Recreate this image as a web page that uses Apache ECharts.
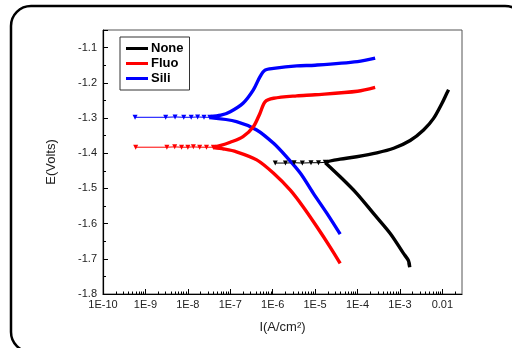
<!DOCTYPE html>
<html>
<head>
<meta charset="utf-8">
<script src="https://cdn.jsdelivr.net/npm/echarts@6/dist/echarts.min.js"></script>
<style>html,body{margin:0;padding:0;background:#fff;}#c{width:512px;height:348px;}</style>
</head>
<body>
<div id="c"></div>
<script>
// ---- data: [current density I (A/cm2), potential E (V)] ----
const seriesNames = ['None', 'Fluo', 'Sili'];
const seriesColors = ['#000000', '#ff0000', '#0000ff'];

const noneFlat = [[1.15e-6,-1.428],[2.0e-6,-1.428],[3.2e-6,-1.427],[5.0e-6,-1.428],[8.0e-6,-1.427],[1.2e-5,-1.427],[1.74e-5,-1.426]];
const noneAnodic = [[1.74e-5,-1.425],[3.9e-5,-1.417],[9.5e-5,-1.410],[2.85e-4,-1.399],[7.1e-4,-1.386],[1.74e-3,-1.364],[3.6e-3,-1.334],[6.2e-3,-1.301],[9.8e-3,-1.258],[1.27e-2,-1.230],[1.4e-2,-1.220]];
const noneCathodic = [[1.74e-5,-1.427],[3.9e-5,-1.467],[9.5e-5,-1.514],[2.37e-4,-1.571],[5.9e-4,-1.628],[1.2e-3,-1.684],[1.58e-3,-1.705],[1.7e-3,-1.724],[1.62e-3,-1.712]];

const fluoFlat = [[5.9e-10,-1.383],[3.2e-9,-1.383],[4.9e-9,-1.382],[7.1e-9,-1.383],[1.0e-8,-1.383],[1.35e-8,-1.382],[1.9e-8,-1.383],[2.75e-8,-1.383],[4.0e-8,-1.383]];
const fluoAnodic = [[4.0e-8,-1.382],[6.0e-8,-1.378],[1.0e-7,-1.369],[2.0e-7,-1.353],[3.5e-7,-1.325],[5.0e-7,-1.287],[6.6e-7,-1.254],[1.05e-6,-1.244],[3.7e-6,-1.237],[1.0e-5,-1.234],[1.0e-4,-1.224],[2.6e-4,-1.213]];
const fluoCathodic = [[4.0e-8,-1.384],[7.0e-8,-1.388],[1.4e-7,-1.396],[4.2e-7,-1.419],[1.05e-6,-1.457],[2.6e-6,-1.505],[5.2e-6,-1.552],[1.1e-5,-1.609],[2.24e-5,-1.666],[3.9e-5,-1.713]];

const siliFlat = [[5.7e-10,-1.298],[3.0e-9,-1.298],[5.0e-9,-1.297],[8.0e-9,-1.298],[1.2e-8,-1.298],[1.7e-8,-1.297],[2.4e-8,-1.298],[3.3e-8,-1.298]];
const siliAnodic = [[3.3e-8,-1.296],[6.0e-8,-1.292],[1.0e-7,-1.282],[2.0e-7,-1.258],[3.5e-7,-1.220],[5.0e-7,-1.183],[6.6e-7,-1.164],[1.05e-6,-1.159],[3.7e-6,-1.152],[1.0e-5,-1.150],[1.0e-4,-1.140],[2.6e-4,-1.130]];
const siliCathodic = [[3.3e-8,-1.299],[1.4e-7,-1.310],[4.2e-7,-1.334],[1.05e-6,-1.372],[2.1e-6,-1.410],[4.5e-6,-1.457],[9.1e-6,-1.514],[1.9e-5,-1.571],[3.9e-5,-1.630]];

const xMin = 1e-10, xMax = 0.029;
const yMin = -1.8, yMax = -1.05, yStep = 0.1;

// minor log ticks (2..9 x 10^n), in log10 space for the tick-only axis
const minorTicks = [];
for (let n = -10; n <= -2; n++) {
  for (let k = 2; k <= 9; k++) {
    const v = n + Math.log10(k);
    if (v < Math.log10(xMax)) minorTicks.push(v);
  }
}

const FONT = 'Liberation Sans, Arial, sans-serif';

function branch(name, color, data) {
  return { name, type: 'line', data, color, smooth: 0.3, showSymbol: false,
    lineStyle: { width: 3.4, color }, xAxisIndex: 0, z: 3 };
}
function flat(name, color, data) {
  return { name, type: 'line', data, color, showSymbol: true, showAllSymbol: true,
    symbol: 'triangle', symbolRotate: 180, symbolSize: 5,
    itemStyle: { color }, lineStyle: { width: 1, color }, xAxisIndex: 0, z: 3 };
}

const chart = echarts.init(document.getElementById('c'), null, { renderer: 'canvas' });
chart.setOption({
  animation: false,
  backgroundColor: '#fff',
  graphic: [{
    type: 'rect', silent: true, z: -1,
    shape: { x: 11, y: 6, width: 514, height: 346, r: 20 },
    style: { fill: null, stroke: '#000', lineWidth: 2.5 }
  }],
  grid: { left: 103, right: 50, top: 30, bottom: 54, show: true, borderColor: '#555', borderWidth: 1 },
  legend: {
    orient: 'vertical', left: 120, top: 37,
    data: seriesNames, icon: 'rect', itemWidth: 22, itemHeight: 3, itemGap: 2,
    padding: [5, 6, 5, 6], borderColor: '#333', borderWidth: 1,
    textStyle: { fontSize: 13, fontWeight: 'bold', color: '#000', fontFamily: FONT, padding: [0, 0, 0, -2] }
  },
  xAxis: [{
    type: 'log', min: xMin, max: xMax, logBase: 10,
    name: 'I(A/cm²)', nameLocation: 'middle', nameGap: 27,
    nameTextStyle: { fontSize: 13, color: '#222', fontFamily: FONT },
    axisLine: { show: true, lineStyle: { color: '#000', width: 1.2 } },
    axisTick: { show: true, inside: true, length: 5, lineStyle: { color: '#000' } },
    splitLine: { show: false },
    axisLabel: {
      fontSize: 11, color: '#222', fontFamily: FONT, margin: 5, showMaxLabel: false,
      formatter: function (v) {
        const e = Math.round(Math.log10(v));
        if (Math.abs(Math.log10(v) - e) > 1e-6) return '';
        if (e >= -2) return Math.pow(10, e).toFixed(-e);
        return '1E' + e;
      }
    }
  }, {
    type: 'value', position: 'bottom', min: Math.log10(xMin), max: Math.log10(xMax),
    axisLine: { show: false }, axisLabel: { show: false }, splitLine: { show: false },
    axisTick: { show: true, inside: true, length: 2.5, customValues: minorTicks, lineStyle: { color: '#000' } }
  }],
  yAxis: {
    type: 'value', min: yMin, max: yMax, interval: yStep,
    name: 'E(Volts)', nameLocation: 'middle', nameGap: 45, nameRotate: 90,
    nameTextStyle: { fontSize: 13, color: '#222', fontFamily: FONT },
    axisLine: { show: true, lineStyle: { color: '#000', width: 1.2 } },
    axisTick: { show: true, inside: true, length: 5, lineStyle: { color: '#000' } },
    minorTick: { show: true, splitNumber: 2, length: 3, lineStyle: { color: '#000' } },
    splitLine: { show: false },
    axisLabel: { fontSize: 11, color: '#222', fontFamily: FONT, margin: 6, showMaxLabel: false,
      formatter: function (v) { return (Math.round(v * 10) / 10).toFixed(1); } }
  },
  series: [
    flat('None', seriesColors[0], noneFlat),
    branch('None', seriesColors[0], noneAnodic),
    branch('None', seriesColors[0], noneCathodic),
    flat('Sili', seriesColors[2], siliFlat),
    branch('Sili', seriesColors[2], siliAnodic),
    branch('Sili', seriesColors[2], siliCathodic),
    flat('Fluo', seriesColors[1], fluoFlat),
    branch('Fluo', seriesColors[1], fluoAnodic),
    branch('Fluo', seriesColors[1], fluoCathodic)
  ]
});
</script>
</body>
</html>
